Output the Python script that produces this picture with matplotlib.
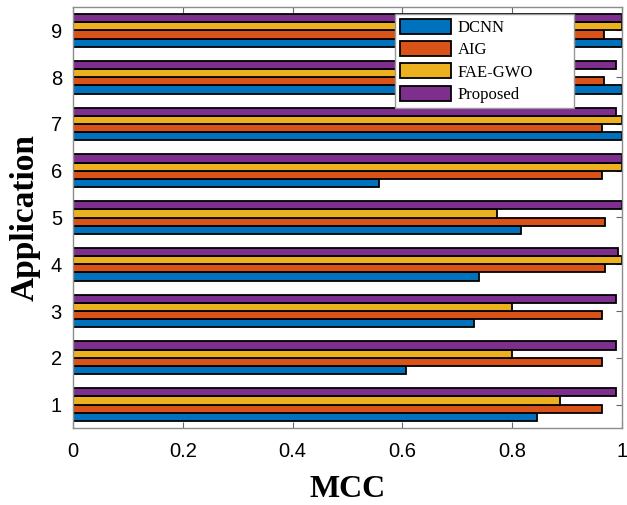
import matplotlib
matplotlib.use("Agg")
import matplotlib.pyplot as plt
import numpy as np

applications = [1, 2, 3, 4, 5, 6, 7, 8, 9]
series_names = ["DCNN", "AIG", "FAE-GWO", "Proposed"]
dcnn     = [0.846, 0.607, 0.730, 0.740, 0.816, 0.557, 1.000, 1.000, 1.000]
aig      = [0.964, 0.964, 0.964, 0.969, 0.969, 0.964, 0.964, 0.968, 0.968]
fae_gwo  = [0.887, 0.800, 0.800, 1.000, 0.773, 1.000, 1.000, 0.850, 1.000]
proposed = [0.989, 0.989, 0.989, 0.992, 1.000, 1.000, 0.989, 0.989, 1.000]
colors = ["#0072BD", "#D95319", "#EDB120", "#7E2F8E"]
xticks = [0, 0.2, 0.4, 0.6, 0.8, 1]
xtick_labels = ["0", "0.2", "0.4", "0.6", "0.8", "1"]

fig = plt.figure(figsize=(6.27, 5.05), dpi=100)
ax = fig.add_axes([73/627, 1 - 428/505, 549/627, 421/505])

y = np.array(applications, dtype=float)
h = 0.175
series = [dcnn, aig, fae_gwo, proposed]
for i, (vals, name, c) in enumerate(zip(series, series_names, colors)):
    ax.barh(y + (i - 1.5) * h, vals, height=h, color=c, edgecolor="black",
            linewidth=1.3, label=name, zorder=2)

ax.set_xlim(0, 1)
ax.set_ylim(0.5, 9.5)
ax.set_xticks(xticks)
ax.set_xticklabels(xtick_labels)
ax.set_yticks(applications)
ax.tick_params(direction="in", top=True, right=True, length=4, width=0.8,
               color="#666666", labelsize=14.5, pad=10,
               labelfontfamily="Liberation Sans")
ax.tick_params(axis="y", pad=8)
for s in ax.spines.values():
    s.set_color("#8c8c8c")
    s.set_linewidth(1.0)

ax.set_xlabel("MCC", fontfamily="Liberation Serif", fontweight="bold",
              fontsize=23, labelpad=10)
ax.set_ylabel("Application", fontfamily="Liberation Serif", fontweight="bold",
              fontsize=24, labelpad=7)

leg = ax.legend(loc="upper left", bbox_to_anchor=(0.587, 0.770, 0.326, 0.213),
                mode="expand",
                borderaxespad=0, fancybox=False, framealpha=1,
                edgecolor="#999999",
                prop={"family": "Liberation Serif", "size": 12},
                handlelength=3.05, handleheight=1.0, labelspacing=0.3,
                handletextpad=0.4, borderpad=0.3)
leg.get_frame().set_linewidth(1.0)
leg.set_zorder(5)

fig.savefig("out.png", dpi=100)
